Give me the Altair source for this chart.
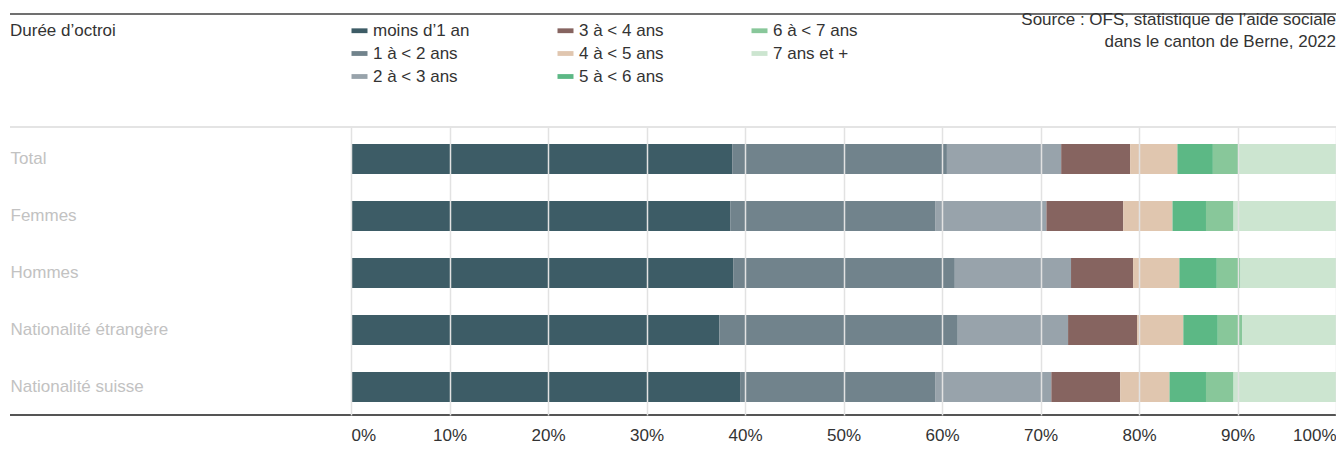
import altair as alt
import pandas as pd

groups = ["Total", "Femmes", "Hommes", "Nationalité étrangère", "Nationalité suisse"]
categories = ["moins d’1 an", "1 à < 2 ans", "2 à < 3 ans", "3 à < 4 ans",
              "4 à < 5 ans", "5 à < 6 ans", "6 à < 7 ans", "7 ans et +"]
colors = ["#3d5c66", "#71838c", "#98a3ab", "#866460",
          "#e0c6af", "#5cb885", "#88c79a", "#cce5d0"]

v_moins1 = [38.7, 38.5, 38.8, 37.4, 39.5]
v_1_2 = [21.8, 20.8, 22.5, 24.2, 19.8]
v_2_3 = [11.6, 11.3, 11.8, 11.2, 11.8]
v_3_4 = [7.0, 7.8, 6.3, 7.0, 7.0]
v_4_5 = [4.8, 5.0, 4.7, 4.7, 5.0]
v_5_6 = [3.6, 3.4, 3.8, 3.5, 3.7]
v_6_7 = [2.6, 2.8, 2.4, 2.5, 2.8]
v_7plus = [9.9, 10.4, 9.7, 9.5, 10.4]

x_ticks = [0, 0.1, 0.2, 0.3, 0.4, 0.5, 0.6, 0.7, 0.8, 0.9, 1.0]
title_text = "Durée d’octroi"
source_1 = "Source : OFS, statistique de l’aide sociale"
source_2 = "dans le canton de Berne, 2022"

series = [v_moins1, v_1_2, v_2_3, v_3_4, v_4_5, v_5_6, v_6_7, v_7plus]
rows = []
for ci, (cat, vals) in enumerate(zip(categories, series)):
    for g, v in zip(groups, vals):
        rows.append({"groupe": g, "duree": cat, "idx": ci, "part": v})
df = pd.DataFrame(rows)

FONT = "Liberation Sans"
W, H = 985, 288
TOP = 119

bars = alt.Chart(df).mark_bar().encode(
    x=alt.X("part:Q", stack="normalize",
            scale=alt.Scale(domain=[0, 1]),
            axis=alt.Axis(format=".0%", values=x_ticks, grid=True, gridColor="#e2e2e2",
                          gridWidth=1.5, domain=False, ticks=False, tickSize=0,
                          labelFontSize=17, labelColor="#333333", labelPadding=12,
                          labelFont=FONT, title=None, zindex=1)),
    y=alt.Y("groupe:N", sort=groups,
            scale=alt.Scale(paddingInner=0.474, paddingOuter=0.263, align=0.567),
            axis=alt.Axis(title=None, domain=False, ticks=False, tickSize=0,
                          labelAlign="left", labelPadding=341, labelColor="#c2c2c2",
                          labelFontSize=17, labelFont=FONT, labelLimit=300)),
    color=alt.Color("duree:N", scale=alt.Scale(domain=categories, range=colors),
                    legend=alt.Legend(orient="none", legendX=0, legendY=-105, columns=3,
                                      title=None, symbolType="M-1,-0.3H1V0.3H-1Z",
                                      symbolSize=256, symbolStrokeWidth=0, symbolOpacity=1,
                                      labelFontSize=17, labelColor="#333333", labelFont=FONT,
                                      columnPadding=87, rowPadding=5, labelOffset=5,
                                      padding=0, gridAlign="each", labelLimit=300)),
    order=alt.Order("idx:Q", sort="ascending"),
)

one = pd.DataFrame({"a": [0]})
top_rule = alt.Chart(one).mark_rule(color="#707070", strokeWidth=2).encode(
    x=alt.value(-341), x2=alt.value(W), y=alt.value(14 - 8 - TOP))
light_rule = alt.Chart(one).mark_rule(color="#e4e4e4", strokeWidth=2).encode(
    x=alt.value(-341), x2=alt.value(W), y=alt.value(0))
bottom_rule = alt.Chart(one).mark_rule(color="#555555", strokeWidth=2).encode(
    x=alt.value(-341), x2=alt.value(W), y=alt.value(H))

title = alt.Chart(one).mark_text(align="left", baseline="middle", fontSize=17,
                                 font=FONT, color="#333333").encode(
    x=alt.value(-341), y=alt.value(31 - 8 - TOP), text=alt.value(title_text))
src1 = alt.Chart(one).mark_text(align="right", baseline="middle", fontSize=17,
                                font=FONT, color="#333333").encode(
    x=alt.value(W), y=alt.value(20 - 8 - TOP), text=alt.value(source_1))
src2 = alt.Chart(one).mark_text(align="right", baseline="middle", fontSize=17,
                                font=FONT, color="#333333").encode(
    x=alt.value(W), y=alt.value(42 - 8 - TOP), text=alt.value(source_2))

chart = alt.layer(bars, light_rule, bottom_rule, top_rule, title, src1, src2).properties(
    width=W, height=H,
    autosize=alt.AutoSizeParams(type="none"),
    padding={"left": 343, "top": TOP, "right": 0, "bottom": 29},
).configure_view(stroke=None)

chart.save("out.html", embed_options={"renderer": "svg", "actions": False})
